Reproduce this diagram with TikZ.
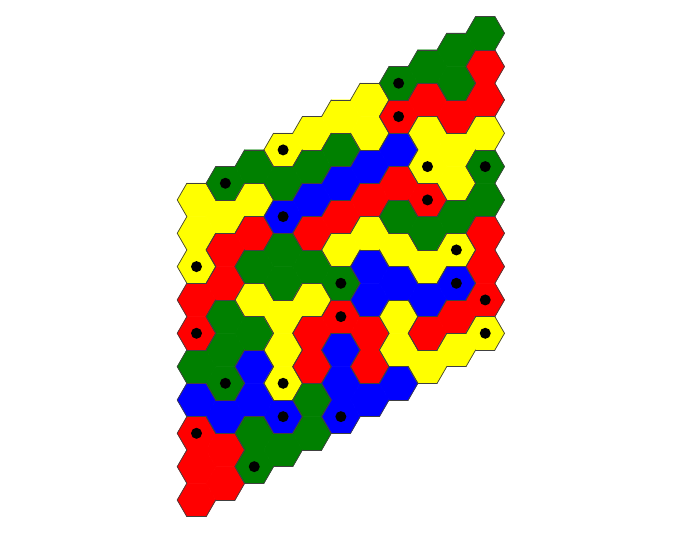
\documentclass[tikz,border=0pt]{standalone}
\usepackage{tikz}
\usetikzlibrary{calc}
\usepackage{xcolor}
\definecolor{hexR}{RGB}{255,0,0}
\definecolor{hexG}{RGB}{0,128,0}
\definecolor{hexB}{RGB}{0,0,255}
\definecolor{hexY}{RGB}{255,255,0}
\tikzset{
  hexcell/.style = {line width=0.6pt, line join=round},
  hexedge/.style = {draw=black!75, line width=0.7pt, line cap=round},
  stone/.style   = {fill=black},
}
\newcommand{\hs}{19.25}

\begin{document}
\begin{tikzpicture}[x=1pt, y=1pt]
\useasboundingbox (0,0) rectangle (683,534);

% cells, column by column (bottom to top)
\foreach \i/\col in {
    0/{R,R,R,B,G,R,R,Y,Y,Y},
    1/{R,R,B,G,G,G,R,R,Y,G},
    2/{G,G,B,B,G,Y,G,R,Y,G},
    3/{G,B,Y,Y,Y,G,G,B,G,Y},
    4/{G,G,R,R,Y,G,R,B,G,Y},
    5/{B,B,B,R,G,Y,R,B,G,Y},
    6/{B,R,R,B,B,Y,R,B,Y,Y},
    7/{B,Y,Y,B,Y,G,R,B,R,G},
    8/{Y,R,B,Y,G,R,Y,Y,R,G},
    9/{Y,R,B,Y,G,Y,Y,R,G,G},
    10/{Y,R,R,R,G,G,Y,R,R,G}} {
  \foreach \c [count=\j from 0] in \col {
    \expandafter\xdef\csname hc-\i-\j\endcsname{\c}
    \coordinate (h-\i-\j) at ({196.5+28.875*\i},{34+16.67*\i+33.34*\j});
    \filldraw[hexcell, fill=hex\c, draw=hex\c] (h-\i-\j) ++(0:\hs)
      -- ++(120:\hs) -- ++(180:\hs) -- ++(240:\hs)
      -- ++(300:\hs) -- ++(0:\hs) -- cycle;
  }
}

% outlines where the colour changes or the board ends
\foreach \i in {0,...,10} {
  \foreach \j in {0,...,9} {
    \edef\here{\csname hc-\i-\j\endcsname}
    \foreach \di/\dj/\a in {1/0/30, 0/1/90, -1/1/150, -1/0/210, 0/-1/270, 1/-1/330} {
      \pgfmathtruncatemacro\ni{\i+\di}
      \pgfmathtruncatemacro\nj{\j+\dj}
      \ifcsname hc-\ni-\nj\endcsname
        \edef\there{\csname hc-\ni-\nj\endcsname}
      \else
        \def\there{none}
      \fi
      \ifx\here\there\else
        \draw[hexedge] ([shift={({\a-30}:\hs)}]h-\i-\j) -- ([shift={({\a+30}:\hs)}]h-\i-\j);
      \fi
    }
  }
}

% stones
\foreach \i/\j in {0/2, 2/0, 3/1, 5/0, 1/3, 3/2, 0/5, 5/3, 5/4, 9/2, 10/1,
                   10/0, 0/7, 3/7, 8/5, 9/3, 1/9, 3/9, 8/6, 10/5, 7/9, 7/8} {
  \fill[stone] (h-\i-\j) circle (5.5);
}

\end{tikzpicture}
\end{document}
